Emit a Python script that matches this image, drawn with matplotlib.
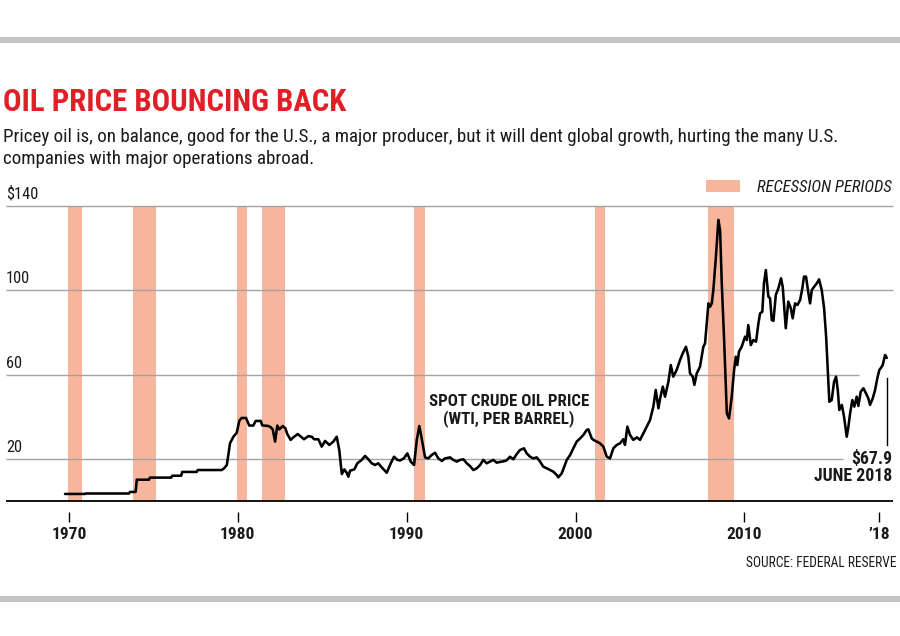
import matplotlib
matplotlib.use("Agg")
import matplotlib.pyplot as plt
from matplotlib import font_manager as fm
from matplotlib.patches import Rectangle
from matplotlib.lines import Line2D

# ---------------- data ----------------
years = [1969.77, 1970.95, 1971.00, 1973.55, 1973.62, 1973.95, 1974.02, 1974.74, 1974.80, 1976.06,
         1976.12, 1976.65, 1976.71, 1977.57, 1977.63, 1979.05, 1979.19, 1979.35, 1979.44, 1979.54,
         1979.74, 1979.94, 1980.09, 1980.23, 1980.49, 1980.68, 1980.92, 1981.06, 1981.36, 1981.45,
         1981.81, 1981.95, 1982.07, 1982.21, 1982.34, 1982.46, 1982.66, 1982.82, 1982.93, 1983.13,
         1983.29, 1983.55, 1983.79, 1983.92, 1984.18, 1984.38, 1984.52, 1984.77, 1984.97, 1985.17,
         1985.42, 1985.66, 1985.86, 1986.01, 1986.16, 1986.31, 1986.45, 1986.55, 1986.65, 1986.90,
         1987.08, 1987.34, 1987.54, 1987.73, 1987.93, 1988.13, 1988.32, 1988.52, 1988.82, 1989.06,
         1989.25, 1989.45, 1989.61, 1989.84, 1990.04, 1990.24, 1990.44, 1990.60, 1990.75, 1990.89,
         1991.09, 1991.28, 1991.48, 1991.68, 1991.88, 1992.08, 1992.27, 1992.57, 1992.76, 1992.97,
         1993.16, 1993.36, 1993.56, 1993.75, 1993.95, 1994.15, 1994.35, 1994.54, 1994.74, 1994.94,
         1995.13, 1995.33, 1995.63, 1995.89, 1996.12, 1996.32, 1996.52, 1996.71, 1996.95, 1997.11,
         1997.31, 1997.50, 1997.70, 1997.90, 1998.09, 1998.30, 1998.49, 1998.69, 1998.89, 1998.98,
         1999.18, 1999.32, 1999.48, 1999.68, 1999.87, 2000.07, 2000.27, 2000.46, 2000.66, 2000.76,
         2000.96, 2001.06, 2001.26, 2001.45, 2001.65, 2001.85, 2002.04, 2002.24, 2002.44, 2002.64,
         2002.83, 2002.93, 2003.07, 2003.23, 2003.42, 2003.63, 2003.82, 2004.02, 2004.22, 2004.41,
         2004.61, 2004.75, 2004.91, 2005.01, 2005.17, 2005.30, 2005.50, 2005.64, 2005.79, 2005.99,
         2006.19, 2006.35, 2006.54, 2006.68, 2006.78, 2006.94, 2007.04, 2007.18, 2007.37, 2007.57,
         2007.67, 2007.77, 2007.87, 2007.97, 2008.07, 2008.16, 2008.30, 2008.46, 2008.56, 2008.66,
         2008.80, 2008.96, 2009.09, 2009.25, 2009.39, 2009.49, 2009.58, 2009.68, 2009.84, 2010.04,
         2010.14, 2010.23, 2010.38, 2010.53, 2010.69, 2010.83, 2010.93, 2011.06, 2011.16, 2011.27,
         2011.42, 2011.52, 2011.62, 2011.72, 2011.86, 2012.01, 2012.17, 2012.27, 2012.37, 2012.45,
         2012.60, 2012.75, 2012.86, 2013.00, 2013.14, 2013.30, 2013.43, 2013.53, 2013.65, 2013.79,
         2013.89, 2013.99, 2014.13, 2014.29, 2014.42, 2014.58, 2014.72, 2014.84, 2014.94, 2015.03,
         2015.17, 2015.31, 2015.43, 2015.53, 2015.62, 2015.77, 2015.90, 2016.06, 2016.16, 2016.26,
         2016.39, 2016.51, 2016.65, 2016.75, 2016.89, 2017.05, 2017.20, 2017.34, 2017.44, 2017.60,
         2017.74, 2017.87, 2017.99, 2018.07, 2018.19, 2018.33, 2018.43]
prices = [3.35, 3.35, 3.56, 3.56, 4.31, 4.31, 10.1, 10.1, 11.1, 11.1,
          12.0, 12.0, 13.8, 13.8, 14.7, 14.7, 15.5, 17.1, 21.8, 27.4,
          30.5, 32.4, 38.1, 39.4, 39.4, 35.8, 35.8, 38.0, 38.0, 35.9,
          35.6, 35.0, 34.0, 28.2, 35.8, 34.0, 35.6, 34.5, 31.8, 29.0,
          30.2, 31.8, 30.2, 29.3, 30.8, 30.5, 29.3, 29.3, 25.8, 28.5,
          26.6, 28.2, 30.5, 24.2, 12.8, 15.0, 13.4, 11.5, 14.4, 15.0,
          17.9, 19.5, 21.4, 19.8, 17.9, 17.1, 17.9, 16.0, 13.4, 17.9,
          21.0, 19.5, 19.2, 20.3, 22.6, 18.7, 17.1, 29.0, 35.6, 29.7,
          20.7, 20.2, 21.8, 22.9, 20.2, 19.0, 20.2, 20.7, 19.5, 18.7,
          19.5, 19.8, 17.9, 16.6, 14.7, 15.5, 17.1, 19.5, 17.9, 18.7,
          19.5, 18.2, 18.7, 19.1, 21.0, 19.8, 22.3, 24.2, 25.0, 22.6,
          21.0, 20.2, 20.7, 18.7, 16.3, 15.5, 14.7, 13.9, 12.3, 11.2,
          13.1, 16.0, 19.5, 21.8, 25.0, 28.2, 29.7, 31.3, 33.7, 34.0,
          29.7, 29.0, 28.2, 27.4, 25.8, 21.0, 20.2, 25.0, 26.6, 27.4,
          29.3, 26.6, 35.3, 31.3, 29.0, 30.2, 29.0, 32.1, 35.3, 38.4,
          44.8, 52.7, 44.0, 48.7, 54.3, 49.5, 56.6, 64.5, 59.0, 62.2,
          66.9, 70.1, 73.2, 68.5, 60.6, 59.0, 55.1, 60.6, 63.7, 73.2,
          74.8, 84.3, 93.8, 92.2, 93.8, 100.1, 114.4, 133.4, 128.6, 103.3,
          76.4, 41.6, 39.2, 49.5, 62.2, 68.5, 64.5, 70.9, 73.2, 78.0,
          76.4, 83.5, 74.0, 76.4, 75.6, 84.3, 89.1, 89.8, 103.3, 109.6,
          97.0, 96.2, 85.9, 85.5, 97.8, 100.9, 105.7, 101.7, 90.6, 82.0,
          94.6, 91.5, 86.7, 93.8, 93.0, 95.4, 100.9, 106.5, 106.5, 98.6,
          93.8, 100.1, 101.7, 103.3, 105.2, 100.1, 91.5, 78.0, 62.2, 47.1,
          47.9, 56.6, 59.0, 52.7, 43.2, 45.6, 40.0, 30.5, 35.3, 41.6,
          47.9, 44.8, 49.5, 45.1, 51.9, 53.5, 51.1, 48.7, 45.6, 48.7,
          52.7, 58.2, 62.2, 63.0, 64.5, 69.3, 67.9]

recession_start = [1969.95, 1973.81, 1979.97, 1981.45, 1990.44, 2001.14, 2007.85]
recession_end = [1970.78, 1975.18, 1980.53, 1982.82, 1991.09, 2001.77, 2009.39]

tick_years = [1970, 1980, 1990, 2000, 2010, 2018]
tick_labels = ["1970", "1980", "1990", "2000", "2010", "\u201918"]

grid_values = [140, 100, 60, 20]
grid_labels = ["$140", "100", "60", "20"]

title = "OIL PRICE BOUNCING BACK"
subtitle_1 = "Pricey oil is, on balance, good for the U.S., a major producer, but it will dent global growth, hurting the many U.S."
subtitle_2 = "companies with major operations abroad."
series_label = ["SPOT CRUDE OIL PRICE", "(WTI, PER BARREL)"]
end_label = ["$67.9", "JUNE 2018"]
legend_label = "RECESSION PERIODS"
source = "SOURCE: FEDERAL RESERVE"

# ---------------- fonts ----------------
names = {f.name for f in fm.fontManager.ttflist}
def pick(*cands):
    for c in cands:
        if c in names:
            return c
    return "DejaVu Sans"
NARROW = pick("Liberation Sans Narrow", "Roboto Condensed", "Open Sans Condensed", "Roboto")

# ---------------- figure ----------------
W, H = 900, 636
fig = plt.figure(figsize=(W / 100, H / 100), dpi=100)
fig.patch.set_facecolor("white")

def fx(x):
    return x / W

def fy(y):
    return 1 - y / H

GRAY_BAR = "#C4C4C4"
BAND = "#F8B59D"
RED = "#E21E26"
TXT = "#1A1A1A"

# top and bottom rules
fig.patches.append(Rectangle((0, fy(43)), 1, 6 / H, transform=fig.transFigure,
                             color=GRAY_BAR, lw=0))
fig.patches.append(Rectangle((0, fy(602)), 1, 6 / H, transform=fig.transFigure,
                             color=GRAY_BAR, lw=0))

renderer = fig.canvas.get_renderer()

def fit(t, width_px):
    w = t.get_window_extent(renderer=renderer).width
    t.set_fontsize(t.get_fontsize() * width_px / w)

t = fig.text(fx(3), fy(111), title, color=RED, fontsize=24, fontweight="bold",
             family=NARROW, va="baseline", ha="left")
fit(t, 344)
s1 = fig.text(fx(3), fy(142), subtitle_1, color=TXT, fontsize=12, family=NARROW,
              va="baseline", ha="left")
fit(s1, 835)
s2 = fig.text(fx(3), fy(164), subtitle_2, color=TXT, fontsize=s1.get_fontsize(),
              family=NARROW, va="baseline", ha="left")

# legend
fig.patches.append(Rectangle((fx(706), fy(192)), 34 / W, 12 / H,
                             transform=fig.transFigure, color=BAND, lw=0))
lg = fig.text(fx(757), fy(192), legend_label, color=TXT, fontsize=10, style="italic",
              family=NARROW, va="baseline", ha="left")
fit(lg, 135)

# ---------------- axes ----------------
x0, x1 = 6, 893
y_top, y_bot = 206, 501
ax = fig.add_axes([fx(x0), fy(y_bot), (x1 - x0) / W, (y_bot - y_top) / H])
ax.set_facecolor("none")
XMIN, XMAX = 1966.275, 2018.80
ax.set_xlim(XMIN, XMAX)
ax.set_ylim(0, 140)
for sp in ["top", "right", "left"]:
    ax.spines[sp].set_visible(False)
ax.spines["bottom"].set_position(("outward", 7.7))
ax.spines["bottom"].set_color("none")

for s, e in zip(recession_start, recession_end):
    ax.axvspan(s, e, color=BAND, lw=0, zorder=1)

grid_ends = [XMAX, XMAX, 2016.79, 2015.84]
for v, xe in zip(grid_values, grid_ends):
    ax.hlines(v, XMIN, xe, color="#A3A3A3", lw=1.0, zorder=2, clip_on=False)
ax.hlines(0, XMIN, XMAX, color="black", lw=1.3, zorder=4, clip_on=False)

ax.plot(years, prices, color="black", lw=1.85, zorder=5, solid_joinstyle="round",
        solid_capstyle="round")

for v, lab in zip(grid_values, grid_labels):
    ax.annotate(lab, xy=(0, v), xycoords=("axes fraction", "data"), xytext=(0, 7),
                textcoords="offset pixels", ha="left", va="baseline", fontsize=11.8,
                family=NARROW, color=TXT)

ax.set_yticks([])
ax.set_xticks(tick_years)
ax.set_xticklabels(tick_labels, fontsize=12.5, fontweight="bold", family=NARROW, color=TXT)
ax.tick_params(axis="x", direction="out", length=7.2, width=1.0, color="black", pad=4.0)

# series label
sl1 = fig.text(fx(509), fy(406.5), series_label[0], color=TXT, fontsize=11,
               fontweight="bold", family=NARROW, ha="center", va="baseline")
fit(sl1, 160)
fig.text(fx(509), fy(423.5), series_label[1], color=TXT, fontsize=sl1.get_fontsize(),
         fontweight="bold", family=NARROW, ha="center", va="baseline")

# end label
el2 = fig.text(fx(892), fy(481), end_label[1], color=TXT, fontsize=11,
               fontweight="bold", family=NARROW, ha="right", va="baseline")
fit(el2, 78)
fig.text(fx(892), fy(464), end_label[0], color=TXT, fontsize=el2.get_fontsize(),
         fontweight="bold", family=NARROW, ha="right", va="baseline")
fig.lines.append(Line2D([fx(887), fx(887)], [fy(378), fy(445)], transform=fig.transFigure,
                        color="black", lw=1.0))

# source
so = fig.text(fx(896), fy(567), source, color=TXT, fontsize=9, family=NARROW,
              ha="right", va="baseline")
fit(so, 152)

fig.savefig("out.png", dpi=100, facecolor="white")
